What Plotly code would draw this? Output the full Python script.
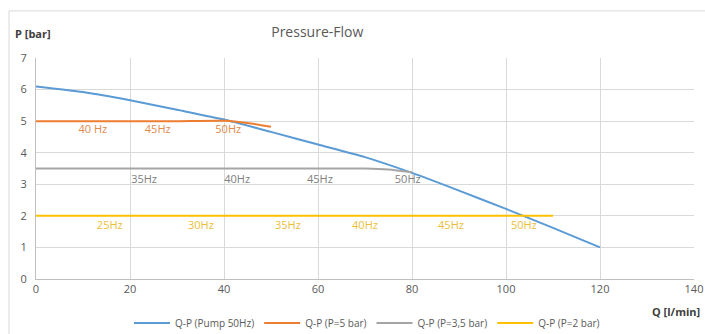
import plotly.graph_objects as go

# Data
pump_q = [0, 10, 20, 30, 40, 50, 60, 70, 80, 90, 100, 110, 120]
pump_p = [6.1, 5.92, 5.66, 5.36, 5.05, 4.66, 4.26, 3.86, 3.36, 2.8, 2.22, 1.62, 1.0]

p5_q = [0, 10, 20, 30, 40, 45, 50]
p5_p = [5.0, 5.0, 5.0, 5.0, 5.01, 4.94, 4.82]

p35_q = [0, 10, 20, 30, 40, 50, 60, 70, 75, 80]
p35_p = [3.5, 3.5, 3.5, 3.5, 3.5, 3.5, 3.5, 3.5, 3.47, 3.38]

p2_q = [0, 110]
p2_p = [2.0, 2.0]

lbl5_text = ["40 Hz", "45Hz", "50Hz"]
lbl5_q = [12.1, 25.9, 40.9]
lbl5_p = [4.70, 4.70, 4.70]

lbl35_text = ["35Hz", "40Hz", "45Hz", "50Hz"]
lbl35_q = [23.0, 42.8, 60.4, 79.1]
lbl35_p = [3.14, 3.12, 3.14, 3.12]

lbl2_text = ["25Hz", "30Hz", "35Hz", "40Hz", "45Hz", "50Hz"]
lbl2_q = [15.7, 35.1, 53.6, 70.0, 88.3, 103.8]
lbl2_p = [1.68, 1.68, 1.68, 1.68, 1.68, 1.68]

x_ticks = [0, 20, 40, 60, 80, 100, 120, 140]
y_ticks = [0, 1, 2, 3, 4, 5, 6, 7]

FONT = "Open Sans"
BLUE = "#5B9BD5"
ORANGE = "#ED7D31"
GREY = "#A5A5A5"
YELLOW = "#FFC000"

fig = go.Figure()
fig.add_trace(go.Scatter(x=pump_q, y=pump_p, mode="lines", name="Q-P (Pump 50Hz)",
                         line=dict(color=BLUE, width=2, shape="spline", smoothing=0.6)))
fig.add_trace(go.Scatter(x=p5_q, y=p5_p, mode="lines", name="Q-P (P=5 bar)",
                         line=dict(color=ORANGE, width=2, shape="spline", smoothing=0.6)))
fig.add_trace(go.Scatter(x=p35_q, y=p35_p, mode="lines", name="Q-P (P=3,5 bar)",
                         line=dict(color=GREY, width=2, shape="spline", smoothing=0.6)))
fig.add_trace(go.Scatter(x=p2_q, y=p2_p, mode="lines", name="Q-P (P=2 bar)",
                         line=dict(color=YELLOW, width=2)))

fig.add_trace(go.Scatter(x=lbl5_q, y=lbl5_p, mode="text", text=lbl5_text, showlegend=False,
                         textfont=dict(family=FONT, size=11, color="#E08A4E"), hoverinfo="skip"))
fig.add_trace(go.Scatter(x=lbl35_q, y=lbl35_p, mode="text", text=lbl35_text, showlegend=False,
                         textfont=dict(family=FONT, size=11, color="#808080"), hoverinfo="skip"))
fig.add_trace(go.Scatter(x=lbl2_q, y=lbl2_p, mode="text", text=lbl2_text, showlegend=False,
                         textfont=dict(family=FONT, size=11, color="#EBBE3A"), hoverinfo="skip"))

fig.update_layout(
    width=705, height=334,
    margin=dict(l=36, r=11, t=58, b=55, autoexpand=False),
    paper_bgcolor="white", plot_bgcolor="white",
    font=dict(family=FONT, size=11, color="#595959"),
    title=dict(text="Pressure-Flow", x=0.45, xanchor="center", y=0.904, yanchor="middle",
               font=dict(family=FONT, size=14, color="#595959")),
    xaxis=dict(range=[0, 140], tickvals=x_ticks, showgrid=True, gridcolor="#D9D9D9", gridwidth=1,
               showline=True, linecolor="#BFBFBF", zeroline=False, ticks="", automargin=False,
               tickfont=dict(size=11, color="#595959"), ticklabeloverflow="allow"),
    yaxis=dict(range=[0, 7], tickvals=y_ticks, showgrid=True, gridcolor="#D9D9D9", gridwidth=1,
               showline=True, linecolor="#BFBFBF", zeroline=False, ticks="", automargin=False,
               tickfont=dict(size=11, color="#595959"), ticklabelstandoff=6),
    legend=dict(orientation="h", x=0.503, xanchor="center", y=0.033, yanchor="middle",
                yref="container",
                font=dict(family=FONT, size=10, color="#595959"), itemwidth=36,
                tracegroupgap=0),
    showlegend=True,
)

# axis titles
fig.add_annotation(text="<b>P [bar]</b>", xref="paper", yref="paper", x=-0.035, y=1.112,
                   xanchor="left", yanchor="middle", showarrow=False,
                   font=dict(family=FONT, size=11, color="#404040"))
fig.add_annotation(text="<b>Q [l/min]</b>", xref="paper", yref="paper", x=1.012, y=-0.145,
                   xanchor="right", yanchor="middle", showarrow=False,
                   font=dict(family=FONT, size=11, color="#404040"))

# outer chart frame
fig.add_shape(type="line", xref="paper", yref="paper", x0=-0.041, x1=-0.041, y0=1.213, y1=-0.3,
              line=dict(color="#D9D9D9", width=1))
fig.add_shape(type="line", xref="paper", yref="paper", x0=-0.041, x1=1.02, y0=1.213, y1=1.213,
              line=dict(color="#D9D9D9", width=1))

# remove the page's default 8px body margin so the figure fills the window exactly
fig.write_html("out.html",
               config={"displayModeBar": False},
               post_script="document.body.style.margin='0';document.body.style.overflow='hidden';")
